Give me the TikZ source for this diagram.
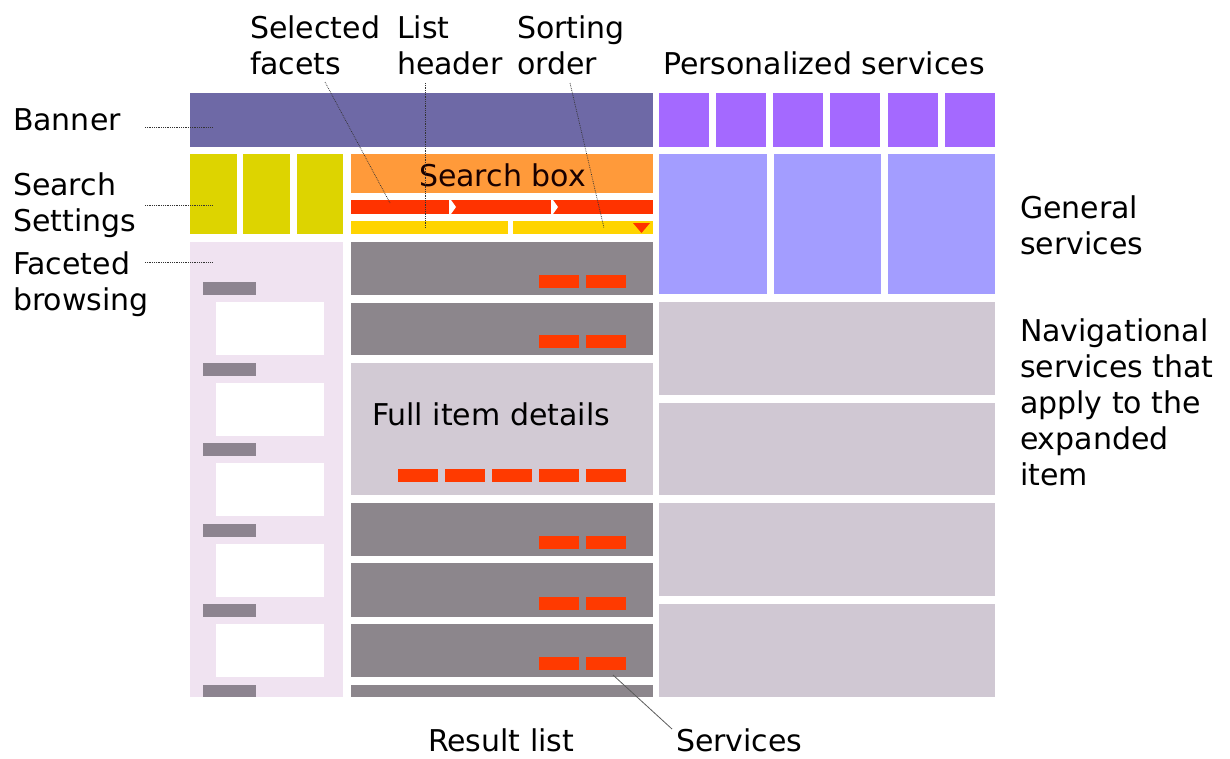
\documentclass[tikz,border=0pt]{standalone}
\usepackage{fontspec}
\setmainfont{DejaVu Sans}
\definecolor{cBanner}{HTML}{6E69A6}
\definecolor{cPers}{HTML}{A469FF}
\definecolor{cGen}{HTML}{A39DFF}
\definecolor{cNav}{HTML}{D0C8D3}
\definecolor{cSet}{HTML}{DDD400}
\definecolor{cFacetBg}{HTML}{F0E3F1}
\definecolor{cFacetBar}{HTML}{8D8490}
\definecolor{cSearch}{HTML}{FF9A3A}
\definecolor{cRed}{HTML}{FF3300}
\definecolor{cYel}{HTML}{FFD400}
\definecolor{cRow}{HTML}{8C868C}
\definecolor{cDet}{HTML}{D2CAD4}
\definecolor{cBtn}{HTML}{FF3A00}
\definecolor{cLead}{HTML}{333333}
\newcommand{\mybox}[6]{\node[blk,fill=#6,minimum width={(#4)-(#2)},minimum height={(#5)-(#3)}] (#1) at ({((#2)+(#4))/2},{((#3)+(#5))/2}) {};}
\begin{document}
\begin{tikzpicture}[x=1pt,y=-1pt,
  blk/.style={rectangle,inner sep=0pt,outer sep=0pt,draw=none},
  lbl/.style={font=\fontsize{30}{36}\selectfont,inner sep=0pt,outer sep=0pt,align=left,text=black},
  lead/.style={draw=cLead,line width=0.7pt,dash pattern=on 0.8pt off 1pt},
  solidlead/.style={draw=cLead!80,line width=0.8pt}]
\useasboundingbox[fill=white] (0,0) rectangle (1230,758);

% banner and personalized services
\mybox{banner}{190}{93}{653}{147}{cBanner}
\foreach \a/\b [count=\i] in {659/709,716/766,773/823,830/880,888/938,945/995}
  {\mybox{pers\i}{\a}{93}{\b}{147}{cPers}}
% general services
\foreach \a/\b [count=\i] in {659/767,774/881,888/995}
  {\mybox{gen\i}{\a}{154}{\b}{294}{cGen}}
% navigational services
\foreach \a/\b [count=\i] in {302/395,403/495,503/596,604/697}
  {\mybox{nav\i}{659}{\a}{995}{\b}{cNav}}
% search settings
\foreach \a/\b [count=\i] in {190/237,243/290,297/343}
  {\mybox{set\i}{\a}{154}{\b}{234}{cSet}}
% faceted browsing
\mybox{facet}{190}{242}{343}{697}{cFacetBg}
\foreach \y [count=\i] in {282,363,443,524,604}
  {\mybox{fbar\i}{203}{\y}{256}{\y+13}{cFacetBar}
   \mybox{fwin\i}{216}{\y+20}{324}{\y+73}{white}}
\mybox{fbar6}{203}{685}{256}{697}{cFacetBar}
% search box
\mybox{search}{351}{154}{653}{193}{cSearch}
\node[lbl,anchor=base west,text=black!90!red] (searchtxt) at (419,186) {Search box};
\mybox{selbar}{351}{200}{653}{214}{cRed}
\foreach \x in {449,551}
  {\fill[white] (\x,200) -- (\x+2,200) -- (\x+7,207) -- (\x+2,214) -- (\x,214) -- cycle;}
\mybox{hdr1}{351}{221}{508}{234}{cYel}
\mybox{hdr2}{513}{221}{653}{234}{cYel}
\fill[cRed] (633,223) -- (650,223) -- (641.5,233) -- cycle;
% result list
\foreach \a/\b [count=\i] in {242/295,303/355,503/556,563/617,624/677}
  {\mybox{row\i}{351}{\a}{653}{\b}{cRow}
   \mybox{btnA\i}{539}{\b-20}{579}{\b-7}{cBtn}
   \mybox{btnB\i}{586}{\b-20}{626}{\b-7}{cBtn}}
\mybox{row6}{351}{685}{653}{697}{cRow}
\mybox{detail}{351}{363}{653}{495}{cDet}
\foreach \x [count=\i] in {398,445,492,539,586}
  {\mybox{dbtn\i}{\x}{469}{\x+40}{482}{cBtn}}
\node[lbl,anchor=base west] (dettxt) at (372,425) {Full item details};

% labels (base anchor = baseline of the last line)
\node[lbl,anchor=base west] (lBanner) at (13,130) {Banner};
\node[lbl,anchor=base west] (lSet) at (13,231) {Search\\Settings};
\node[lbl,anchor=base west] (lFacet) at (13,310) {Faceted\\browsing};
\node[lbl,anchor=base west] (lSel) at (250,74) {Selected\\facets};
\node[lbl,anchor=base west] (lHdr) at (397,74) {List\\header};
\node[lbl,anchor=base west] (lSort) at (517,74) {Sorting\\order};
\node[lbl,anchor=base west] (lPers) at (663,74) {Personalized services};
\node[lbl,anchor=base west] (lGen) at (1020,254) {General\\services};
\node[lbl,anchor=base west] (lNav) at (1020,485) {Navigational\\services that\\apply to the\\expanded\\item};
\node[lbl,anchor=base west] (lRes) at (428,751) {Result list};
\node[lbl,anchor=base west] (lServ) at (676,751) {Services};

% leader lines
\coordinate (bA) at (145,127); \coordinate (bB) at (212,127);
\coordinate (sA) at (145,205); \coordinate (sB) at (212,205);
\coordinate (fA) at (145,262); \coordinate (fB) at (212,262);
\coordinate (selA) at (325,82); \coordinate (selB) at (390,203);
\coordinate (hA) at (425,83); \coordinate (hB) at (425,228);
\coordinate (soA) at (570,83); \coordinate (soB) at (604,228);
\coordinate (svA) at (613,675); \coordinate (svB) at (672,729);
\draw[lead] (bA) -- (bB);
\draw[lead] (sA) -- (sB);
\draw[lead] (fA) -- (fB);
\draw[lead] (selA) -- (selB);
\draw[lead] (hA) -- (hB);
\draw[lead] (soA) -- (soB);
\draw[solidlead] (svA) -- (svB);
\end{tikzpicture}
\end{document}
